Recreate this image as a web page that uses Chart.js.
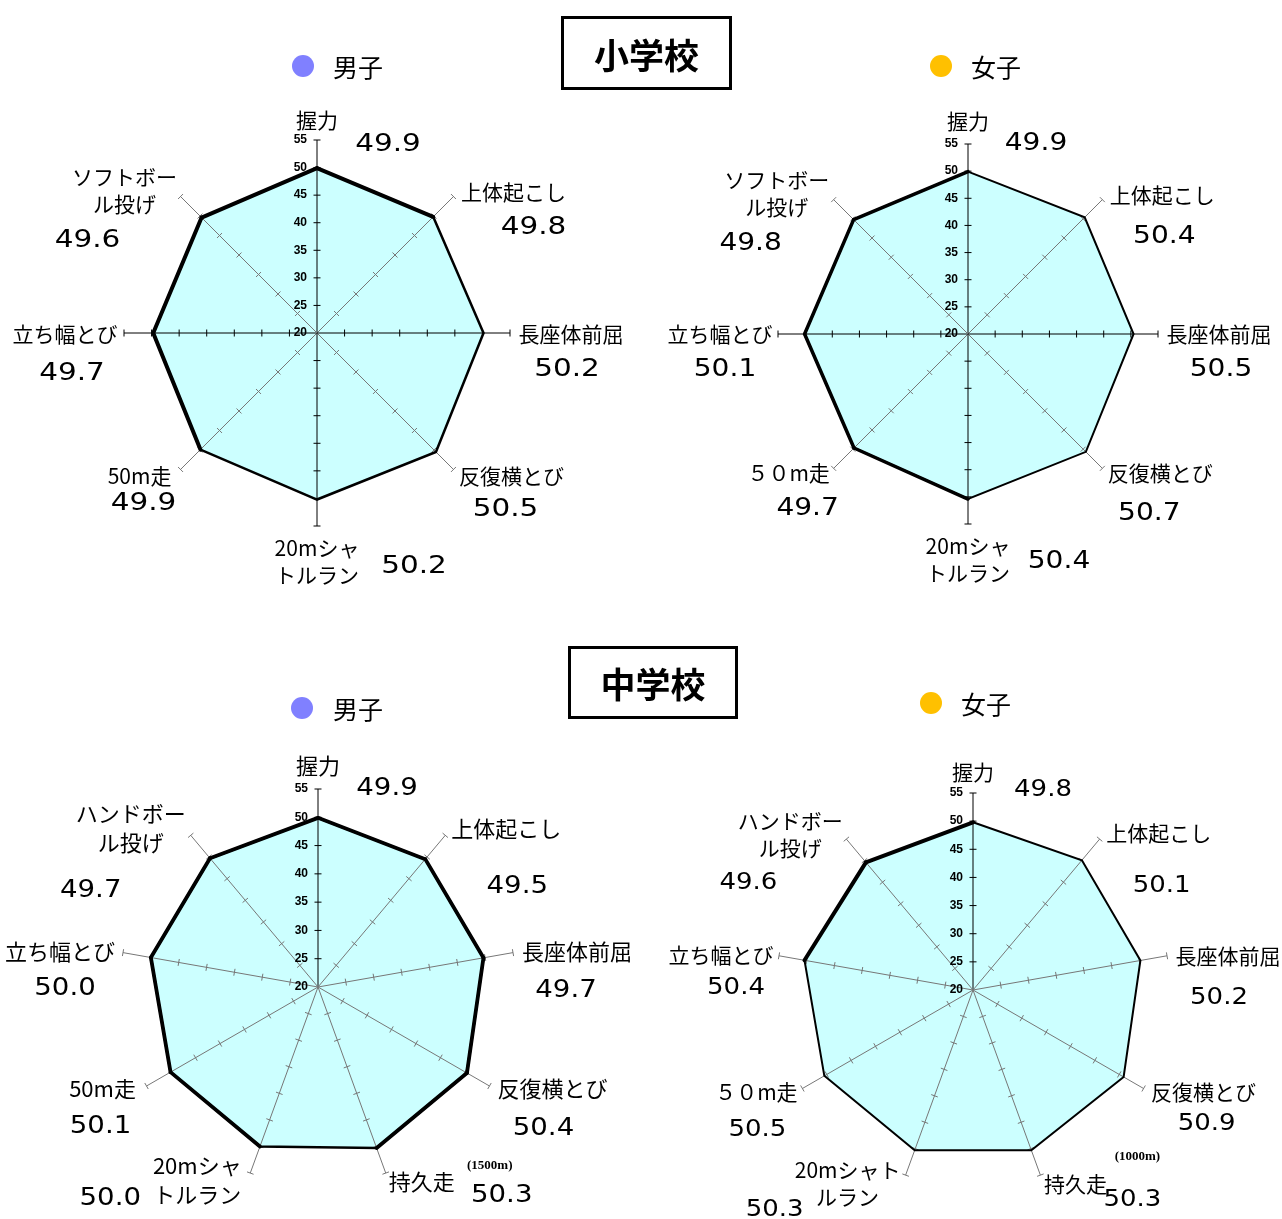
<!DOCTYPE html>
<html lang="ja">
<head>
<meta charset="utf-8">
<title>体力テスト レーダーチャート</title>
<script src="https://cdn.jsdelivr.net/npm/chart.js@4.4.1/dist/chart.umd.min.js"></script>
<style>
  body { margin: 0; background: #fff; font-family: "Noto Sans CJK JP", sans-serif; }
  #page { position: relative; width: 1282px; height: 1219px; overflow: hidden; }
  canvas { position: absolute; }
  .title { position: absolute; box-sizing: border-box; border: 3px solid #000; display: flex;
           align-items: center; justify-content: center; font-weight: bold; font-size: 35px; }
  .dot { position: absolute; width: 22px; height: 22px; border-radius: 50%; }
  .lg { position: absolute; font-size: 25px; line-height: 26px; }
</style>
</head>
<body>
<div id="page">
  <canvas id="elemBoys" width="641" height="610" style="left:0;top:0"></canvas>
  <canvas id="elemGirls" width="641" height="610" style="left:641px;top:0"></canvas>
  <canvas id="juniorBoys" width="641" height="609" style="left:0;top:610px"></canvas>
  <canvas id="juniorGirls" width="641" height="609" style="left:641px;top:610px"></canvas>

  <div class="title" style="left:561px;top:16px;width:171px;height:74px">小学校</div>
  <div class="title" style="left:568px;top:646px;width:170px;height:73px">中学校</div>

  <div class="dot" style="left:292px;top:55px;background:#8080ff"></div>
  <div class="lg" style="left:333px;top:53px">男子</div>
  <div class="dot" style="left:930px;top:55px;background:#ffc000"></div>
  <div class="lg" style="left:971px;top:53px">女子</div>
  <div class="dot" style="left:291px;top:697px;background:#8080ff"></div>
  <div class="lg" style="left:333px;top:695px">男子</div>
  <div class="dot" style="left:920px;top:692px;background:#ffc000"></div>
  <div class="lg" style="left:961px;top:690px">女子</div>
</div>
<script>
"use strict";

// 目盛り
const scaleTicks = [20, 25, 30, 35, 40, 45, 50, 55];

// 小学校
const elemBoyLabels = ["握力", "上体起こし", "長座体前屈", "反復横とび", "20mシャ\nトルラン", "50m走", "立ち幅とび", "ソフトボー\nル投げ"];
const elemBoyValues = [49.9, 49.8, 50.2, 50.5, 50.2, 49.9, 49.7, 49.6];
const elemGirlLabels = ["握力", "上体起こし", "長座体前屈", "反復横とび", "20mシャ\nトルラン", "５０m走", "立ち幅とび", "ソフトボー\nル投げ"];
const elemGirlValues = [49.9, 50.4, 50.5, 50.7, 50.4, 49.7, 50.1, 49.8];

// 中学校
const juniorBoyLabels = ["握力", "上体起こし", "長座体前屈", "反復横とび", "持久走", "20mシャ\nトルラン", "50m走", "立ち幅とび", "ハンドボー\nル投げ"];
const juniorBoyValues = [49.9, 49.5, 49.7, 50.4, 50.3, 50.0, 50.1, 50.0, 49.7];
const juniorGirlLabels = ["握力", "上体起こし", "長座体前屈", "反復横とび", "持久走", "20mシャト\nルラン", "５０m走", "立ち幅とび", "ハンドボー\nル投げ"];
const juniorGirlValues = [49.8, 50.1, 50.2, 50.9, 50.3, 50.3, 50.5, 50.4, 49.6];

// 軸・目盛り・項目名・数値を描くプラグイン（位置は軸の先端からのずれ）
function makeDecor(lay) {
  return {
    id: 'radarDecor',
    beforeDatasetDraw(chart) {
      // 塗りの上、線の下に軸
      const r = chart.scales.r;
      const ctx = chart.ctx;
      ctx.save();
      ctx.lineWidth = 1;
      chart.data.labels.forEach((lab, i) => {
        const c = r.getPointPositionForValue(i, r.min);
        const e = r.getPointPositionForValue(i, r.max);
        const straight = Math.abs(e.x - c.x) < 0.5 || Math.abs(e.y - c.y) < 0.5;
        ctx.strokeStyle = straight ? '#000' : '#777';
        ctx.beginPath();
        ctx.moveTo(c.x, c.y);
        ctx.lineTo(e.x, e.y);
        ctx.stroke();
        const len = Math.hypot(e.x - c.x, e.y - c.y);
        const nx = -(e.y - c.y) / len, ny = (e.x - c.x) / len;
        r.ticks.forEach(t => {
          if (t.value === r.min) return;
          const p = r.getPointPositionForValue(i, t.value);
          ctx.beginPath();
          ctx.moveTo(p.x - nx * 3.5, p.y - ny * 3.5);
          ctx.lineTo(p.x + nx * 3.5, p.y + ny * 3.5);
          ctx.stroke();
        });
      });
      ctx.restore();
    },
    afterDatasetDraw(chart) {
      // 太く見える辺を重ねる
      const pts = chart.getDatasetMeta(0).data;
      const ctx = chart.ctx;
      ctx.save();
      ctx.strokeStyle = '#000';
      ctx.lineWidth = lay.thickWidth;
      ctx.lineCap = 'round';
      lay.thick.forEach(i => {
        const a = pts[i], b = pts[(i + 1) % pts.length];
        ctx.beginPath();
        ctx.moveTo(a.x, a.y);
        ctx.lineTo(b.x, b.y);
        ctx.stroke();
      });
      ctx.restore();
    },
    afterDraw(chart) {
      const r = chart.scales.r;
      const ctx = chart.ctx;
      ctx.save();
      ctx.fillStyle = '#000';
      ctx.textBaseline = 'middle';

      // 目盛りの数字
      ctx.font = 'bold 12px "Liberation Sans"';
      ctx.textAlign = 'right';
      r.ticks.forEach(t => {
        const p = r.getPointPositionForValue(0, t.value);
        ctx.fillText(String(t.value), p.x - 10, p.y);
      });

      ctx.textAlign = 'center';
      const values = chart.data.datasets[0].data;
      chart.data.labels.forEach((lab, i) => {
        const tip = r.getPointPositionForValue(i, r.max);
        const lo = lay.labelOffsets[i], vo = lay.valueOffsets[i];
        const lines = lab.split('\n');
        ctx.font = lay.labelFont;
        lines.forEach((ln, k) => {
          ctx.fillText(ln, tip.x + lo[0], tip.y + lo[1] + (k - (lines.length - 1) / 2) * lay.lineHeight);
        });
        ctx.save();
        ctx.font = lay.valueFont;
        ctx.translate(tip.x + vo[0], tip.y + vo[1]);
        ctx.scale(lay.valueStretch, 1);
        ctx.fillText(values[i].toFixed(1), 0, 0);
        ctx.restore();
      });

      if (lay.note) {
        const tip = r.getPointPositionForValue(lay.note.index, r.max);
        ctx.font = 'bold 13px "Liberation Serif"';
        ctx.fillText(lay.note.text, tip.x + lay.note.dx, tip.y + lay.note.dy);
      }
      ctx.restore();
    }
  };
}

function createRadar(id, labels, values, lay) {
  new Chart(document.getElementById(id), {
    type: 'radar',
    data: {
      labels: labels,
      datasets: [{
        data: values,
        backgroundColor: '#ccffff',
        borderColor: '#000',
        borderWidth: lay.lineWidth,
        pointRadius: 0,
        fill: true
      }]
    },
    options: {
      responsive: false,
      animation: false,
      layout: { padding: lay.padding },
      scales: {
        r: {
          min: scaleTicks[0],
          max: scaleTicks[scaleTicks.length - 1],
          ticks: { stepSize: scaleTicks[1] - scaleTicks[0], display: false },
          grid: { display: false },
          angleLines: { display: false },
          pointLabels: { display: false }
        }
      },
      plugins: {
        legend: { display: false },
        tooltip: { enabled: false }
      }
    },
    plugins: [makeDecor(lay)]
  });
}

createRadar('elemBoys', elemBoyLabels, elemBoyValues, {
  padding: { left: 124, right: 131, top: 140, bottom: 84 },
  lineWidth: 2.5, thickWidth: 4, thick: [5, 6, 7, 0],
  labelFont: '21px "Noto Sans CJK JP"', lineHeight: 27,
  valueFont: '25px "DejaVu Sans"', valueStretch: 1.18,
  labelOffsets: [[0, -20], [60, -5], [61, 1], [58, 7], [0, 36], [-41, 7], [-59, 1], [-56, -6]],
  valueOffsets: [[71, 4], [80, 31], [57, 36], [52, 40], [97, 40], [-37, 34], [-52, 40], [-93, 44]]
});

createRadar('elemGirls', elemGirlLabels, elemGirlValues, {
  padding: { left: 137, right: 124, top: 144, bottom: 86 },
  lineWidth: 2, thickWidth: 3.5, thick: [4, 5, 6, 7],
  labelFont: '21px "Noto Sans CJK JP"', lineHeight: 27,
  valueFont: '24px "DejaVu Sans"', valueStretch: 1.17,
  labelOffsets: [[0, -23], [60, -5], [61, 0], [58, 5], [0, 36], [-45, 5], [-58, 0], [-57, -6]],
  valueOffsets: [[68, 0], [62, 37], [63, 36], [47, 45], [91, 38], [-26, 40], [-53, 36], [-83, 44]]
});

createRadar('juniorBoys', juniorBoyLabels, juniorBoyValues, {
  padding: { left: 120, right: 125, top: 179, bottom: 34 },
  lineWidth: 2.5, thickWidth: 3.8, thick: [0, 1, 2, 3, 5, 6, 7, 8],
  labelFont: '22px "Noto Sans CJK JP"', lineHeight: 29,
  valueFont: '24px "DejaVu Sans"', valueStretch: 1.15,
  labelOffsets: [[0, -23], [61, -7], [64, -1], [63, 3], [36, 9], [-53, 7], [-44, 3], [-63, -1], [-60, -7]],
  valueOffsets: [[69, 0], [72, 51], [53, 38], [54, 43], [116, 23], [-140, 26], [-46, 41], [-58, 36], [-100, 55]],
  note: { text: '(1500m)', index: 4, dx: 104, dy: -7 }
});

createRadar('juniorGirls', juniorGirlLabels, juniorGirlValues, {
  padding: { left: 135, right: 112, top: 183, bottom: 32 },
  lineWidth: 2, thickWidth: 4, thick: [7, 8],
  labelFont: '21px "Noto Sans CJK JP"', lineHeight: 27,
  valueFont: '23px "DejaVu Sans"', valueStretch: 1.13,
  labelOffsets: [[0, -21], [59, -6], [61, 0], [60, 4], [35, 9], [-58, 8], [-46, 4], [-58, -1], [-56, -5]],
  valueOffsets: [[70, -3], [62, 47], [52, 42], [63, 36], [92, 25], [-131, 35], [-45, 42], [-43, 32], [-98, 44]],
  note: { text: '(1000m)', index: 4, dx: 97, dy: -18 }
});
</script>
</body>
</html>
